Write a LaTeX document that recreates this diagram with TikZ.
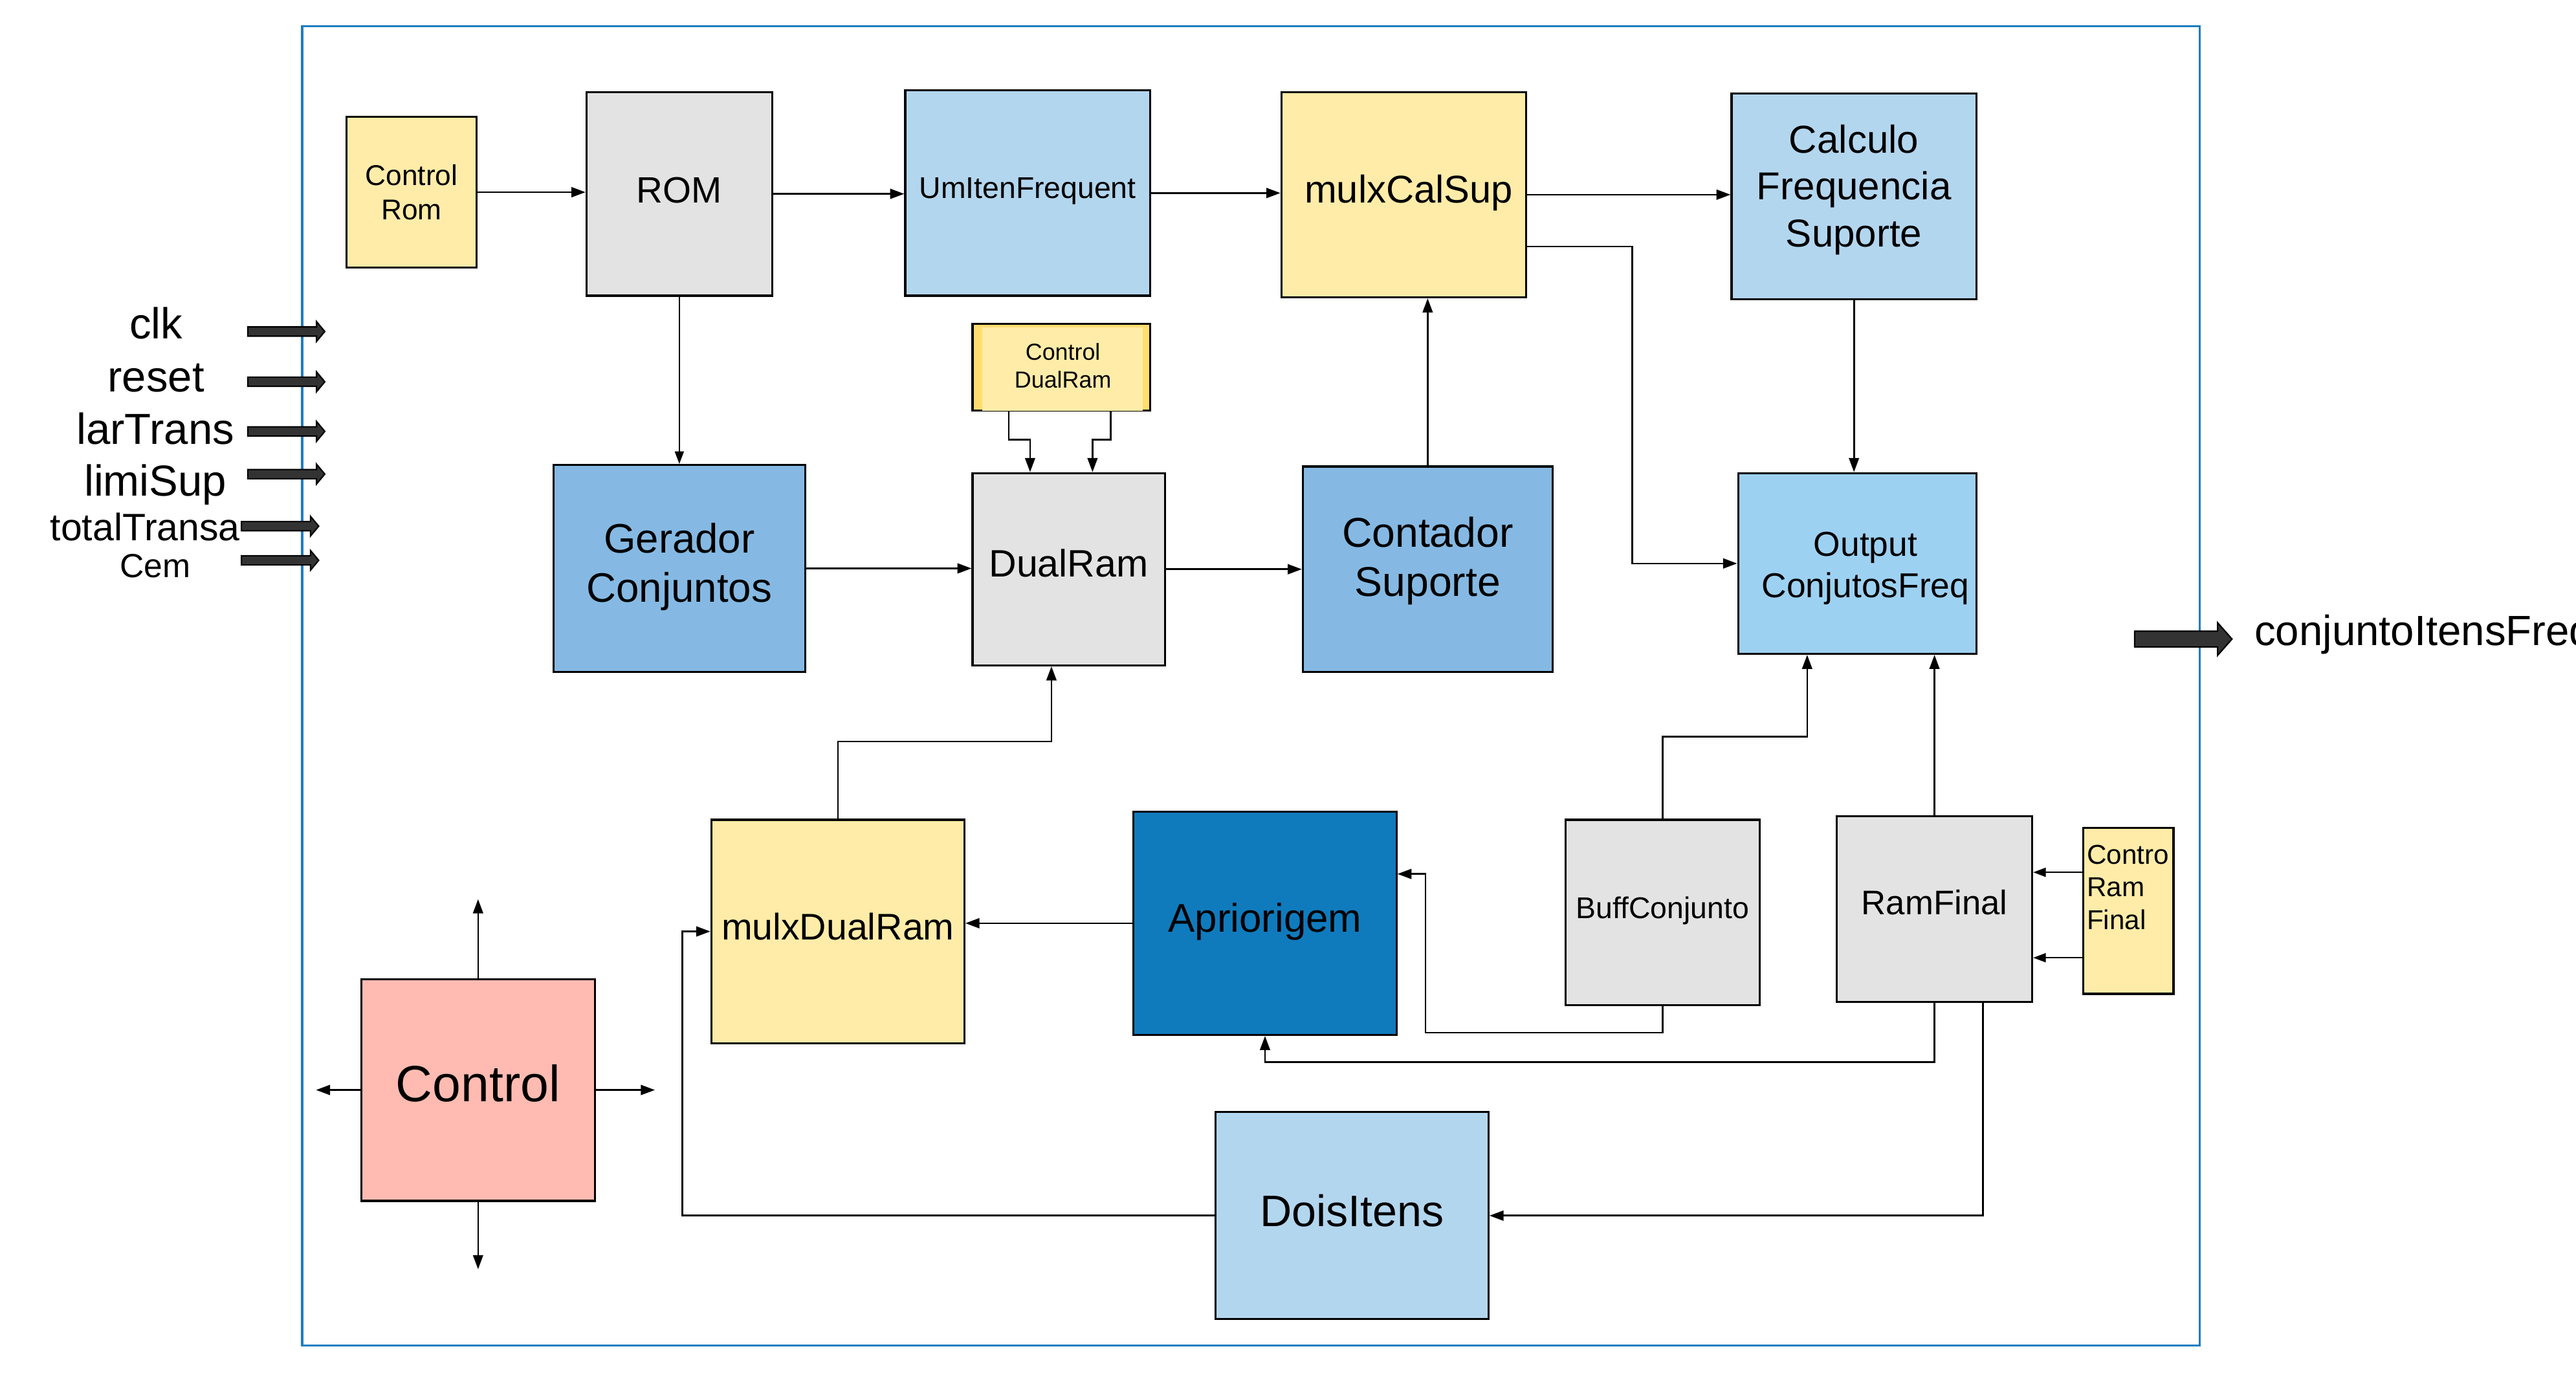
\documentclass[tikz,border=0pt]{standalone}
\usepackage{fontspec}
\setmainfont{Liberation Sans}
\usetikzlibrary{arrows.meta,calc}
\newdimen\uu \uu=0.72242pt
\definecolor{yel}{HTML}{FFECA8}
\definecolor{yeldark}{HTML}{FFDD70}
\definecolor{gry}{HTML}{E3E3E3}
\definecolor{lblue}{HTML}{B3D6EF}
\definecolor{mblue}{HTML}{85B9E3}
\definecolor{oblue}{HTML}{9DD1F2}
\definecolor{dblue}{HTML}{0F7BBD}
\definecolor{ctlpink}{HTML}{FFBBB1}
\definecolor{frameblue}{HTML}{1B7EC2}
\definecolor{arrfill}{HTML}{333333}
\tikzset{
  blk/.style={draw=black, line width=0.9pt, inner sep=0pt},
  framebox/.style={draw=frameblue, line width=1pt, inner sep=0pt},
  arr/.style={-{Triangle[length=6.2pt,width=4.4pt]}, line width=0.75pt},
  thinarr/.style={-{Triangle[length=5.5pt,width=4pt]}, line width=0.5pt},
  lbl/.style={inner sep=0pt, text=black},
  blockarr/.style={fill=arrfill, draw=black, line width=0.6pt, line join=miter},
}
% box: name, x1, y1, x2, y2, box style, text style, text offset, text
\newcommand\blk[9]{\node[blk,#6,minimum width={(#4-#2)*\uu},minimum height={(#5-#3)*\uu}] (#1) at ({(#2+#4)/2},{(#3+#5)/2}) {};
  \node[lbl,align=center,#7] (#1t) at ($(#1)+#8$) {#9};}
% block arrow: x1, xtip, y, shaft half, head half, head length, name
\newcommand\inarrow[7]{\path[blockarr] (#1,#3-#4) -- (#2-#6,#3-#4) -- (#2-#6,#3-#5) -- (#2,#3) -- (#2-#6,#3+#5) -- (#2-#6,#3+#4) -- (#1,#3+#4) -- cycle; \coordinate (#7) at (#2,#3);}
\newcommand\fsz[2]{\fontsize{#1}{#2}\selectfont}
\begin{document}
\begin{tikzpicture}[x=\uu, y=-\uu]
\useasboundingbox (0,0) rectangle (1568,835.4);
% outer frame
\node[framebox, minimum width={1155*\uu}, minimum height={803*\uu}] (frame) at (761.5,417.5) {};

% blocks
\blk{crom}{211}{71}{290}{163}{fill=yel}{font=\fsz{12.6}{15.2}}{(0,0)}{Control\\Rom}
\blk{rom}{357}{56}{470}{180}{fill=gry}{font=\fsz{16.1}{19}}{(0,-2)}{ROM}
\blk{umi}{551}{55}{700}{180}{fill=lblue}{font=\fsz{13.2}{16}}{(0,-1)}{UmItenFrequent}
\blk{mcs}{780}{56}{929}{181}{fill=yel}{font=\fsz{17}{20}}{(3,-1)}{mulxCalSup}
\blk{calc}{1054}{57}{1203}{182}{fill=lblue}{font=\fsz{17.1}{20.6}}{(0,-4)}{Calculo\\Frequencia\\Suporte}
\blk{cdr}{592}{197}{700}{250}{fill=yeldark}{font=\fsz{10.2}{12.3}, overlay}{(0,0)}{}
\fill[yel] ($(cdr.south west)+(6.5,-0.7)$) rectangle ($(cdr.north east)+(-5,3)$);
\node[lbl, align=center, font=\fsz{10.2}{12.3}] (cdrl) at ($(cdr)+(1,-1)$) {Control\\DualRam};
\blk{gen}{337}{283}{490}{409}{fill=mblue}{font=\fsz{18.1}{21.7}}{(0,-1)}{Gerador\\Conjuntos}
\blk{dr}{592}{288}{709}{405}{fill=gry}{font=\fsz{16.8}{20}}{(0,-3.5)}{DualRam}
\blk{cs}{793}{284}{945}{409}{fill=mblue}{font=\fsz{18.3}{21.7}}{(0,-5)}{Contador\\Suporte}
\blk{out}{1058}{288}{1203}{398}{fill=oblue}{font=\fsz{15.2}{18}}{(5,3)}{Output\\ConjutosFreq}
\blk{mdr}{433}{499}{587}{635}{fill=yel}{font=\fsz{16.3}{19.5}}{(0,-3)}{mulxDualRam}
\blk{apr}{690}{494}{850}{630}{fill=dblue}{font=\fsz{17.6}{21}}{(0,-1)}{Apriorigem}
\blk{buf}{953}{499}{1071}{612}{fill=gry}{font=\fsz{13.2}{16}}{(0,-1)}{BuffConjunto}
\blk{ram}{1118}{497}{1237}{610}{fill=gry}{font=\fsz{15}{18}}{(0,-4)}{RamFinal}
\blk{crf}{1268}{504}{1323}{605}{fill=yel}{font=\fsz{12}{14.4}, overlay}{(0,0)}{}
\node[lbl, align=left, anchor=north west, font=\fsz{12}{14.4}] (crfl) at (1270,514) {Contro\\Ram\\Final};
\blk{ctl}{220}{596}{362}{731}{fill=ctlpink}{font=\fsz{22.4}{26}}{(0,-4)}{Control}
\blk{dois}{740}{677}{906}{803}{fill=lblue}{font=\fsz{19.4}{23}}{(0,-3)}{DoisItens}

% connectors
\draw[arr] (crom.east) -- (crom.east -| rom.west);
\draw[arr] (rom.east) -- (rom.east -| umi.west);
\draw[arr] (umi.east) -- (umi.east -| mcs.west);
\draw[arr] (mcs.east) -- (mcs.east -| calc.west);
\draw[arr] ($(mcs.east)+(0,31.5)$) -- ($(mcs.east)+(64,31.5)$) |- (out.west);
\draw[arr] (calc.south) -- (calc.south |- out.north);
\draw[thinarr] (rom.south) -- (rom.south |- gen.north);
\draw[arr] (gen.east) -- (gen.east -| dr.west);
\draw[arr] (dr.east) -- (dr.east -| cs.west);
\draw[arr] (cs.north) -- (cs.north |- mcs.south);
\draw[arr] ($(cdr.south)+(-32,0)$) -- ++(0,17) -| ($(dr.north)+(-23.5,0)$);
\draw[arr] ($(cdr.south)+(30,0)$) -- ++(0,17) -| ($(dr.north)+(14.5,0)$);
\draw[arr] (mdr.north) -- ++(0,-47) -| ($(dr.south)+(-10.5,0)$);
\draw[arr] (apr.west) -- (apr.west -| mdr.east);
\draw[arr] (buf.south) -- ++(0,16) -| ($(apr.east)+(17,-30)$) -- ($(apr.east)+(0,-30)$);
\draw[arr] (buf.north) -- ++(0,-50) -| ($(out.south)+(-30.5,0)$);
\draw[arr] (ram.north) -- (ram.north |- out.south);
\draw[arr] (ram.south) -- ++(0,36) -| (apr.south);
\draw[arr] ($(ram.south)+(29.5,0)$) |- (dois.east);
\draw[arr] (dois.west) -- ++(-324,0) |- (mdr.west);
\coordinate (crf1) at ($(crf.west)+(0,-23.5)$);
\coordinate (crf2) at ($(crf.west)+(0,28.5)$);
\draw[thinarr] (crf1) -- (crf1 -| ram.east);
\draw[thinarr] (crf2) -- (crf2 -| ram.east);
\coordinate (cu) at ($(ctl.north)+(0,-48)$);
\coordinate (cd) at ($(ctl.south)+(0,41)$);
\coordinate (cl) at ($(ctl.west)+(-27,0)$);
\coordinate (cr) at ($(ctl.east)+(36,0)$);
\draw[arr] (ctl.north) -- (cu);
\draw[arr] (ctl.south) -- (cd);
\draw[arr] (ctl.west) -- (cl);
\draw[arr] (ctl.east) -- (cr);

% inputs
\inarrow{150.8}{197.7}{201.8}{2.8}{6}{5}{aclk}
\inarrow{150.8}{197.7}{232.4}{2.8}{6}{5}{areset}
\inarrow{150.8}{197.7}{262.6}{2.8}{6}{5}{alar}
\inarrow{150.8}{197.7}{288.6}{2.8}{6}{5}{alimi}
\inarrow{147}{194}{320.3}{2.8}{6}{5}{atot}
\inarrow{147}{194}{341.1}{2.8}{6}{5}{acem}
\node[lbl, anchor=base, font=\fsz{19.1}{23}] (tclk) at (95,206) {clk};
\node[lbl, anchor=base, font=\fsz{19.1}{23}] (treset) at (95,238.3) {reset};
\node[lbl, anchor=base, font=\fsz{19.1}{23}] (tlar) at (94.6,270.5) {larTrans};
\node[lbl, anchor=base, font=\fsz{19.1}{23}] (tlimi) at (94.6,302) {limiSup};
\node[lbl, anchor=base, font=\fsz{16.8}{20}] (ttot) at (88.3,328.9) {totalTransa};
\node[lbl, anchor=base, font=\fsz{14.7}{18}] (tcem) at (94.6,351.6) {Cem};

% output
\inarrow{1299.3}{1358.6}{389}{4.8}{10}{8.8}{aout}
\node[lbl, anchor=base west, font=\fsz{18.6}{22}] (tout) at (1372,393) {conjuntoItensFreq};
\end{tikzpicture}
\end{document}
